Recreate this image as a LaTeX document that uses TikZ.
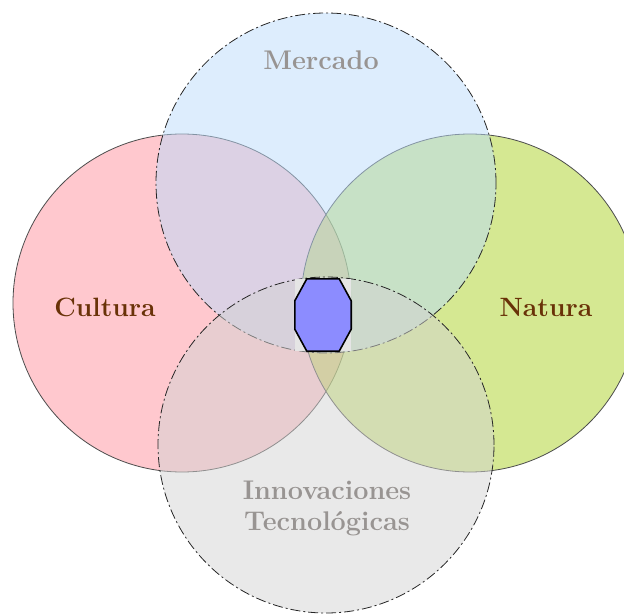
\documentclass[tikz,border=0pt]{standalone}
\usepackage{tikz}

\definecolor{culturafill}{RGB}{255,145,157}
\definecolor{naturafill}{RGB}{171,209,37}
\definecolor{mercadofill}{RGB}{187,219,251}
\definecolor{innovfill}{RGB}{211,211,211}
\definecolor{nucleofill}{RGB}{140,140,255}
\definecolor{grislabel}{RGB}{152,148,146}
\definecolor{marronlabel}{RGB}{105,50,8}

\begin{document}
\begin{tikzpicture}[x=1pt,y=-1pt,
   lado/.style={circle,minimum size=338pt,inner sep=0pt,draw=black!70,line width=.8pt,fill opacity=.5},
   lado2/.style={lado,minimum size=340pt,draw=black!85,dash pattern=on 10pt off 3pt on 2pt off 3pt},
   rotulo/.style={font=\fontsize{27}{31}\selectfont\bfseries,align=center,text=grislabel},
   rotulo2/.style={rotulo,font=\fontsize{26.5}{30}\selectfont\bfseries,text=marronlabel}]
   \useasboundingbox (0,0) rectangle (624,615);

   \node[lado,fill=culturafill] (c1) at (182,303) {};
   \node[lado,fill=naturafill] (c2) at (470,303) {};
   \node[lado2,fill=mercadofill] (c3) at (326,183) {};
   \node[lado2,minimum size=336pt,fill=innovfill] (c4) at (326,445) {};

   \node[rotulo] (t3) at (321,60) {Mercado};
   \node[rotulo2] (t1) at (105,307) {Cultura};
   \node[rotulo2] (t2) at (546,307) {Natura};
   \node[rotulo] (t4) at (327,508) {Innovaciones\\Tecnológicas};

   \node[fill=black!10,minimum width=56pt,minimum height=72pt,inner sep=0pt] (n) at (323,315) {};
   \draw[fill=nucleofill,line width=1.6pt,line join=round]
      ([xshift=12pt]n.north west) -- ([xshift=-12pt]n.north east)
      -- ([yshift=-22pt]n.north east) -- ([yshift=22pt]n.south east)
      -- ([xshift=-12pt]n.south east) -- ([xshift=12pt]n.south west)
      -- ([yshift=22pt]n.south west) -- ([yshift=-22pt]n.north west) -- cycle;

\end{tikzpicture}
\end{document}
